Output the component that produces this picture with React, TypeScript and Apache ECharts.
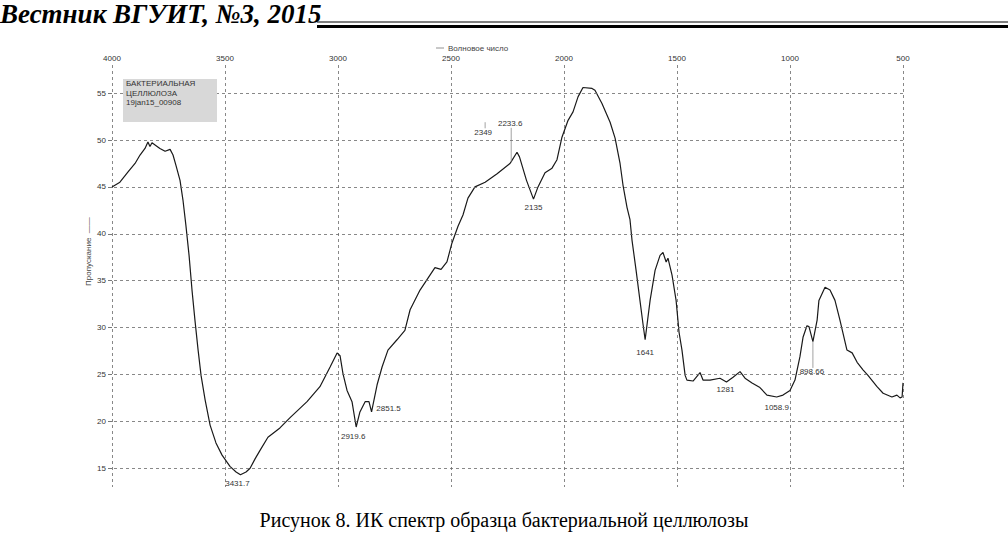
import React, { useEffect, useRef } from "react";
import * as echarts from "echarts";

// Spectrum (wavenumber, cm-1 / transmittance, %)
const wavenumber = [
  4000, 3965, 3929, 3898, 3876, 3854, 3841, 3832, 3823, 3805, 3788, 3765, 3743, 3730, 3717, 3699,
  3686, 3673, 3659, 3646, 3633, 3619, 3606, 3588, 3566, 3540, 3513, 3478, 3451, 3431.7, 3407, 3389,
  3367, 3345, 3310, 3257, 3212, 3137, 3080, 3035, 3004, 2991, 2978, 2960, 2938, 2919.6, 2903, 2880,
  2863, 2851.5, 2827, 2805, 2779, 2739, 2704, 2681, 2637, 2593, 2571, 2544, 2518, 2496, 2469, 2447,
  2425, 2394, 2349, 2296, 2239, 2233.6, 2208, 2197, 2166, 2135, 2115, 2084, 2053, 2031, 2009, 1982,
  1960, 1938, 1916, 1876, 1863, 1832, 1796, 1774, 1752, 1739, 1721, 1708, 1699, 1681, 1664, 1650,
  1641, 1619, 1597, 1575, 1562, 1548, 1540, 1522, 1504, 1491, 1478, 1464, 1456, 1429, 1398, 1385,
  1354, 1310, 1281, 1252, 1221, 1199, 1168, 1133, 1102, 1058.9, 1031, 1000, 978, 956, 942, 925,
  916, 898.66, 880, 872, 845, 823, 801, 779, 748, 725, 703, 677, 655, 615, 588, 549,
  527, 513, 504, 500,
];
const transmittance = [
  45.0, 45.5, 46.6, 47.5, 48.4, 49.1, 49.8, 49.3, 49.7, 49.4, 49.1, 48.8, 49.0, 48.4, 47.3, 45.7,
  43.6, 40.9, 37.7, 34.0, 30.8, 27.6, 24.9, 22.3, 19.6, 17.7, 16.4, 15.2, 14.6, 14.3, 14.6, 15.0,
  16.0, 16.9, 18.3, 19.3, 20.4, 22.1, 23.7, 25.8, 27.3, 27.0, 25.1, 23.3, 22.1, 19.4, 21.0, 22.1,
  22.1, 21.0, 23.9, 25.8, 27.6, 28.7, 29.7, 31.9, 34.0, 35.6, 36.4, 36.2, 37.0, 39.0, 40.8, 42.0,
  43.8, 45.0, 45.5, 46.4, 47.5, 47.7, 48.7, 48.2, 45.7, 43.7, 45.0, 46.5, 47.0, 47.9, 50.3, 52.1,
  53.0, 54.6, 55.6, 55.5, 55.3, 53.9, 51.9, 50.2, 47.5, 45.2, 42.8, 41.5, 39.3, 36.1, 32.9, 30.3,
  28.7, 32.9, 36.1, 37.7, 38.0, 37.0, 37.4, 35.6, 32.9, 29.5, 27.6, 24.9, 24.4, 24.3, 25.2, 24.4,
  24.4, 24.6, 24.2, 24.7, 25.3, 24.6, 24.1, 23.6, 22.8, 22.6, 22.8, 23.3, 24.4, 26.9, 29.0, 30.2,
  30.1, 28.5, 30.8, 32.9, 34.3, 34.0, 32.9, 30.8, 27.6, 27.3, 26.3, 25.5, 24.9, 23.7, 23.0, 22.6,
  22.8, 22.5, 22.6, 24.1,
];

// Peak annotations
const peakWavenumbers = [3431.7, 2919.6, 2851.5, 2349, 2233.6, 2135, 1641, 1281, 1058.9, 898.66];
const peakValues = [14.3, 19.4, 21.0, 45.5, 47.7, 43.7, 28.7, 24.2, 22.6, 28.5];
const peakLabels = ["3431.7", "2919.6", "2851.5", "2349", "2233.6", "2135", "1641", "1281", "1058.9", "898.66"];
// leader lines [wavenumber, from, to]
const leaders = [
  [2349, 51.9, 51.25],
  [2233.6, 47.7, 51.3],
  [898.66, 28.5, 25.7],
];

const yTicks = [15, 20, 25, 30, 35, 40, 45, 50, 55];

const labelOffsets: number[][] = [
  [-3, 9], [-3, 10], [17, -3], [-2, -50], [-1, -38], [0, 8], [0, 13], [-1, 8], [0, 11], [-1, 30],
];

export default function App() {
  const ref = useRef<HTMLDivElement>(null);
  useEffect(() => {
    if (!ref.current) return;
    const chart = echarts.init(ref.current, undefined, { renderer: "svg" });
    const spectrum = wavenumber.map((w, i) => [w, transmittance[i]]);
    const grid = "#6a6a6a";
    const font = "'Liberation Sans', Arial, sans-serif";
    chart.setOption({
      animation: false,
      backgroundColor: "#ffffff",
      grid: { left: 112, right: 105, top: 65, bottom: 47, containLabel: false },
      xAxis: {
        type: "value",
        min: 500,
        max: 4000,
        interval: 500,
        inverse: true,
        position: "top",
        axisLine: { show: false },
        axisTick: { show: false },
        axisLabel: { fontSize: 8, color: "#333", margin: 3, fontFamily: font, formatter: (v: number) => String(v) },
        splitLine: { show: true, lineStyle: { color: grid, type: [3, 3], width: 0.8 } },
      },
      yAxis: {
        type: "value",
        min: 13,
        max: 58,
        axisLine: { show: false },
        axisTick: { show: true, length: 4, customValues: yTicks, lineStyle: { color: "#555", width: 0.8 } },
        axisLabel: { fontSize: 8, color: "#333", margin: 6, customValues: yTicks, fontFamily: font },
        splitLine: { show: false },
      },
      graphic: [
        { type: "text", left: 0, top: 0, style: { text: "Вестник ВГУИТ, №3, 2015", font: "italic bold 27px 'Liberation Serif', serif", fill: "#000" } },
        { type: "line", shape: { x1: 317, y1: 22, x2: 1008, y2: 22 }, style: { stroke: "#000", lineWidth: 1 } },
        { type: "line", shape: { x1: 317, y1: 26.5, x2: 1008, y2: 26.5 }, style: { stroke: "#000", lineWidth: 3 } },
        { type: "line", shape: { x1: 436, y1: 48, x2: 444, y2: 48 }, style: { stroke: "#777", lineWidth: 0.8 } },
        { type: "text", x: 448, y: 44, style: { text: "Волновое число", font: "8px 'Liberation Sans', Arial, sans-serif", fill: "#444" } },
        { type: "text", x: 84, y: 286, rotation: Math.PI / 2, style: { text: "Пропускание  ——", font: "8px 'Liberation Sans', Arial, sans-serif", fill: "#444" } },
        { type: "rect", z: 100, shape: { x: 123, y: 79, width: 94, height: 43 }, style: { fill: "#d8d8d8" } },
        { type: "text", z: 101, x: 126, y: 79, style: { text: "БАКТЕРИАЛЬНАЯ\nЦЕЛЛЮЛОЗА\n19jan15_00908", font: "8px 'Liberation Sans', Arial, sans-serif", fill: "#333", lineHeight: 9.5 } },
        { type: "text", left: "center", top: 510, style: { text: "Рисунок 8. ИК спектр образца бактериальной целлюлозы", font: "20px 'Liberation Serif', 'Times New Roman', serif", fill: "#000" } },
      ],
      series: [
        {
          type: "line",
          data: spectrum,
          symbol: "none",
          lineStyle: { color: "#1a1a1a", width: 1.2 },
          silent: true,
          markLine: {
            silent: true,
            symbol: "none",
            label: { show: false },
            lineStyle: { color: grid, type: [3, 3], width: 0.8 },
            data: yTicks.map((v) => ({ yAxis: v })),
          },
        },
        ...leaders.map((l) => ({
          type: "line",
          data: [[l[0], l[1]], [l[0], l[2]]],
          symbol: "none",
          silent: true,
          lineStyle: { color: "#8a8a8a", width: 0.8 },
        })),
        {
          type: "scatter",
          symbolSize: 1,
          itemStyle: { color: "#333", opacity: 0 },
          silent: true,
          data: peakWavenumbers.map((w, i) => ({
            value: [w, peakValues[i]],
            label: {
              show: true,
              position: "inside",
              offset: labelOffsets[i],
              formatter: peakLabels[i],
              fontSize: 8,
              color: "#333",
              opacity: 1,
              textBorderWidth: 0,
              textBorderColor: "transparent",
              fontFamily: font,
            },
          })),
        },
      ],
    });
    return () => chart.dispose();
  }, []);
  return <div ref={ref} style={{ position: "fixed", left: 0, top: 0, width: 1008, height: 534 }} />;
}
